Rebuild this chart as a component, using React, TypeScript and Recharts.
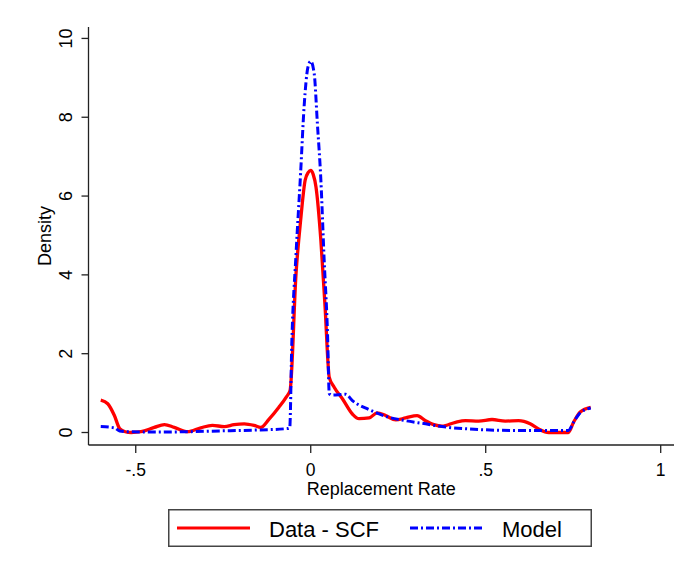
import React from "react";
import { LineChart, Line, XAxis, YAxis, Legend } from "recharts";

// Kernel density of the replacement rate: SCF data vs. model
const dataX = [
  -0.6, -0.58, -0.561, -0.546, -0.53, -0.513, -0.485, -0.447, -0.418, -0.39, -0.352, -0.314,
  -0.281, -0.247, -0.219, -0.19, -0.162, -0.143, -0.119, -0.091, -0.07, -0.059, -0.042, -0.028,
  -0.016, -0.007, 0, 0.007, 0.015, 0.029, 0.041, 0.053, 0.067, 0.091, 0.119, 0.138, 0.167, 0.19,
  0.214, 0.243, 0.271, 0.304, 0.328, 0.352, 0.375, 0.414, 0.442, 0.48, 0.518, 0.556, 0.594,
  0.627, 0.651, 0.68, 0.736, 0.751, 0.77, 0.8,
];
const dataY = [
  0.82, 0.73, 0.43, 0.1, 0.02, 0, 0.02, 0.13, 0.2, 0.13, 0.02, 0.12,
  0.18, 0.15, 0.2, 0.22, 0.18, 0.13, 0.34, 0.64, 0.9, 1.07, 4.03, 5.46,
  6.4, 6.6, 6.65, 6.55, 6.23, 4.87, 3.18, 1.4, 1.15, 0.85, 0.47, 0.35, 0.37, 0.5,
  0.43, 0.32, 0.37, 0.43, 0.3, 0.2, 0.16, 0.26, 0.3, 0.29, 0.33, 0.29, 0.3,
  0.22, 0.09, 0, 0, 0.26, 0.52, 0.64,
];

const modelX = [
  -0.6, -0.561, -0.546, -0.52, -0.45, -0.352, -0.26, -0.162, -0.067, -0.06, -0.054, -0.042,
  -0.029, -0.019, -0.008, 0, 0.01, 0.019, 0.029, 0.038, 0.048, 0.053, 0.06, 0.1, 0.119,
  0.167, 0.214, 0.271, 0.328, 0.375, 0.451, 0.594, 0.66, 0.736, 0.751, 0.77, 0.8,
];
const modelY = [
  0.15, 0.12, 0.04, 0.02, 0.01, 0.02, 0.04, 0.06, 0.1, 0.12, 2.3, 4.53,
  6.57, 8.26, 9.27, 9.42, 9.1, 7.84, 6.4, 4.45, 2.5, 0.99, 0.95, 0.97, 0.81,
  0.58, 0.41, 0.3, 0.22, 0.15, 0.09, 0.05, 0.05, 0.05, 0.26, 0.5, 0.62,
];

const xTicks = [-0.5, 0, 0.5, 1];
const xTickLabels = ["-.5", "0", ".5", "1"];
const yTicks = [0, 2, 4, 6, 8, 10];

const FONT = "'Liberation Sans', Arial, sans-serif";

const scfData = dataX.map((x, i) => ({ x, y: dataY[i] }));
const modelData = modelX.map((x, i) => ({ x, y: modelY[i] }));

const XTick = ({ x, y, payload }: any) => (
  <text x={x} y={y + 21} textAnchor="middle" fontFamily={FONT} fontSize={17.5} fill="#000">
    {xTickLabels[xTicks.indexOf(payload.value)]}
  </text>
);

const YTick = ({ x, y, payload }: any) => (
  <text
    x={x - 7.5}
    y={y}
    transform={`rotate(-90 ${x - 7.5} ${y})`}
    textAnchor="middle"
    fontFamily={FONT}
    fontSize={18}
    fill="#000"
  >
    {payload.value}
  </text>
);

const DensityLabel = ({ viewBox }: any) => {
  const cx = viewBox.x + 43;
  const cy = viewBox.y + viewBox.height / 2;
  return (
    <text x={cx} y={cy} transform={`rotate(-90 ${cx} ${cy})`} textAnchor="middle" fontFamily={FONT} fontSize={18} fill="#000">
      Density
    </text>
  );
};

const RateLabel = ({ viewBox }: any) => (
  <text x={viewBox.x + viewBox.width / 2} y={viewBox.y + 50} textAnchor="middle" fontFamily={FONT} fontSize={18} fill="#000">
    Replacement Rate
  </text>
);

const LegendBox = ({ payload }: any) => {
  const items = payload || [];
  const slots = [9, 242];
  return (
    <svg width={424} height={38} style={{ display: "block" }}>
      <rect x={0.75} y={0.75} width={422.5} height={36.5} fill="#fff" stroke="#444" strokeWidth={1.5} />
      {items.map((entry: any, i: number) => (
        <g key={entry.value}>
          <line
            x1={slots[i]}
            x2={slots[i] + 73}
            y1={19}
            y2={19}
            stroke={entry.color}
            strokeWidth={3}
            strokeDasharray={entry.payload?.strokeDasharray}
          />
          <text x={slots[i] + 92} y={27.5} fontFamily={FONT} fontSize={22} fill="#000">
            {entry.value}
          </text>
        </g>
      ))}
    </svg>
  );
};

export default function App() {
  return (
    <div style={{ width: 675, height: 556, background: "#fff" }}>
      <LineChart width={675} height={556} margin={{ top: 19, right: 9, left: 0, bottom: 0 }}>
        <XAxis
          type="number"
          dataKey="x"
          domain={[-0.635, 1.038]}
          ticks={xTicks}
          tick={<XTick />}
          tickSize={8}
          height={119}
          allowDataOverflow
          stroke="#222"
          strokeWidth={1.3}
          label={<RateLabel />}
        />
        <YAxis
          type="number"
          domain={[-0.317, 10.29]}
          ticks={yTicks}
          tick={<YTick />}
          tickSize={7}
          width={80.5}
          allowDataOverflow
          stroke="#222"
          strokeWidth={1.3}
          label={<DensityLabel />}
        />
        <Legend
          layout="horizontal"
          verticalAlign="middle"
          align="center"
          content={<LegendBox />}
          wrapperStyle={{ left: 160, top: 501, width: 424, height: 38 }}
        />
        <Line
          data={scfData}
          dataKey="y"
          name="Data - SCF"
          type="monotone"
          stroke="#ff0000"
          strokeWidth={3.3}
          dot={false}
          isAnimationActive={false}
        />
        <Line
          data={modelData}
          dataKey="y"
          name="Model"
          type="monotone"
          stroke="#0000ff"
          strokeWidth={3}
          strokeDasharray="8 3 2 3"
          dot={false}
          isAnimationActive={false}
        />
      </LineChart>
    </div>
  );
}
